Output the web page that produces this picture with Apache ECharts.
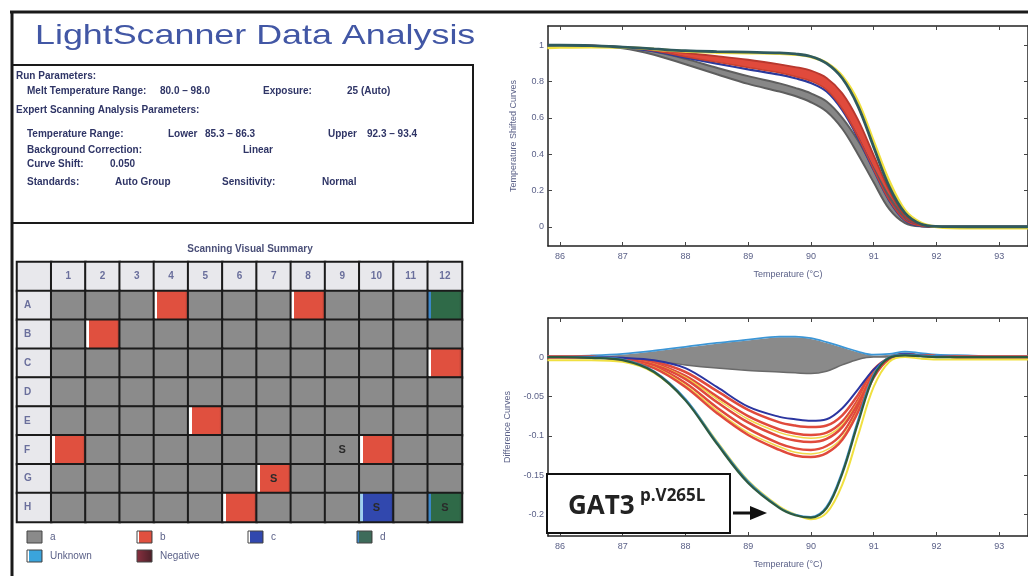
<!DOCTYPE html>
<html>
<head>
<meta charset="utf-8">
<script src="https://cdn.jsdelivr.net/npm/echarts@6/dist/echarts.min.js"></script>
<style>
  html, body { margin: 0; padding: 0; background: #fff; }
  #main { width: 1028px; height: 576px; }
</style>
</head>
<body>
<div id="main"></div>
<script>
// 温度采样点 (°C)
const temps = [85.8, 86, 86.5, 87, 87.5, 88, 88.5, 89, 89.5, 89.75, 90, 90.25, 90.5, 90.75, 91, 91.25, 91.5, 91.75, 92, 92.5, 93, 93.46];
const tempTicks = [86, 87, 88, 89, 90, 91, 92, 93];
const shiftTicks = [0, 0.2, 0.4, 0.6, 0.8, 1];
const diffTicks = [0, -0.05, -0.1, -0.15, -0.2];

// Temperature Shifted Curves
const shiftGreyHi = [1.0, 1.0, 0.996, 0.987, 0.965, 0.925, 0.876, 0.83, 0.79, 0.765, 0.735, 0.69, 0.6, 0.475, 0.32, 0.165, 0.052, 0.01, 0, 0, 0, 0];
const shiftGreyLo = [1.0, 1.0, 0.995, 0.984, 0.948, 0.895, 0.84, 0.787, 0.745, 0.72, 0.686, 0.635, 0.54, 0.4, 0.245, 0.097, 0.02, 0.002, 0, 0, 0, 0];
const shiftRedHi = [1.0, 1.0, 0.998, 0.99, 0.978, 0.958, 0.94, 0.92, 0.895, 0.88, 0.86, 0.82, 0.735, 0.59, 0.395, 0.2, 0.06, 0.01, 0, 0, 0, 0];
const shiftRedLo = [1.0, 1.0, 0.998, 0.989, 0.97, 0.937, 0.907, 0.877, 0.848, 0.828, 0.803, 0.755, 0.65, 0.495, 0.315, 0.145, 0.036, 0.005, 0, 0, 0, 0];
const shiftBlue = [1.0, 1.0, 0.997, 0.988, 0.967, 0.932, 0.899, 0.867, 0.838, 0.818, 0.792, 0.745, 0.642, 0.49, 0.312, 0.143, 0.035, 0.004, 0, 0, 0, 0];
const shiftYellow = [0.986, 0.988, 0.99, 0.988, 0.978, 0.966, 0.96, 0.957, 0.954, 0.949, 0.936, 0.903, 0.83, 0.69, 0.47, 0.25, 0.09, 0.022, 0, -0.008, -0.008, -0.008];
const shiftGat3 = [1.0, 1.0, 0.998, 0.99, 0.98, 0.97, 0.965, 0.962, 0.958, 0.952, 0.938, 0.9, 0.818, 0.665, 0.44, 0.22, 0.075, 0.015, 0.002, 0, 0, 0];

// Difference Curves
const diffGreyHi = [0, 0, 0.001, 0.003, 0.007, 0.012, 0.017, 0.021, 0.025, 0.025, 0.023, 0.018, 0.012, 0.006, 0.002, 0.003, 0.006, 0.004, 0.003, 0.002, 0.001, 0.001];
const diffGreyLo = [0, 0, -0.001, -0.002, -0.005, -0.01, -0.014, -0.017, -0.019, -0.02, -0.021, -0.018, -0.01, -0.003, 0, 0, 0.002, 0.001, 0, 0, 0, 0];
const diffCyan = [0.001, 0.001, 0.002, 0.004, 0.008, 0.013, 0.018, 0.022, 0.026, 0.026, 0.024, 0.019, 0.013, 0.007, 0.003, 0.004, 0.007, 0.005, 0.003, 0.002, 0.001, 0.001];
const diffBlue = [0, 0, 0, -0.001, -0.004, -0.014, -0.038, -0.063, -0.076, -0.079, -0.081, -0.079, -0.065, -0.041, -0.016, -0.001, 0.004, 0.002, 0.001, 0, 0, 0];
const diffRed1 = [0, 0, 0, -0.002, -0.006, -0.019, -0.043, -0.067, -0.083, -0.087, -0.089, -0.087, -0.074, -0.048, -0.016, -0.001, 0.003, 0.002, 0.001, 0, 0, 0];
const diffRed2 = [0, 0, 0, -0.003, -0.008, -0.024, -0.05, -0.075, -0.092, -0.097, -0.099, -0.096, -0.082, -0.054, -0.019, -0.001, 0.003, 0.002, 0.001, 0, 0, 0];
const diffRed3 = [0, 0, 0, -0.003, -0.01, -0.028, -0.057, -0.083, -0.101, -0.106, -0.108, -0.104, -0.089, -0.059, -0.021, -0.002, 0.003, 0.002, 0.001, 0, 0, 0];
const diffRed4 = [0, 0, 0, -0.004, -0.012, -0.033, -0.064, -0.091, -0.11, -0.116, -0.118, -0.113, -0.097, -0.064, -0.023, -0.002, 0.003, 0.002, 0.001, 0, 0, 0];
const diffRed5 = [0, 0, 0, -0.004, -0.014, -0.038, -0.071, -0.099, -0.118, -0.125, -0.127, -0.122, -0.105, -0.07, -0.026, -0.002, 0.003, 0.002, 0.001, 0, 0, 0];
const diffYellowA = [0, 0, 0, -0.003, -0.009, -0.026, -0.053, -0.079, -0.096, -0.101, -0.103, -0.1, -0.086, -0.057, -0.02, -0.001, 0.003, 0.002, 0.001, 0, 0, 0];
const diffYellowB = [0, 0, 0, -0.004, -0.013, -0.036, -0.068, -0.096, -0.114, -0.121, -0.123, -0.118, -0.102, -0.068, -0.025, -0.002, 0.003, 0.002, 0.001, 0, 0, 0];
const diffGat3 = [0, 0, -0.001, -0.004, -0.019, -0.055, -0.11, -0.16, -0.192, -0.201, -0.204, -0.192, -0.148, -0.084, -0.025, -0.001, 0.002, 0.001, 0, 0, 0, 0];
const diffGat3Cyan = [0, 0, 0, -0.003, -0.018, -0.053, -0.108, -0.158, -0.191, -0.2, -0.203, -0.19, -0.145, -0.08, -0.022, 0, 0.003, 0.002, 0.001, 0, 0, 0];
const diffGat3Yellow = [-0.004, -0.004, -0.004, -0.006, -0.02, -0.054, -0.107, -0.157, -0.19, -0.2, -0.206, -0.198, -0.162, -0.1, -0.038, -0.006, 0, -0.002, -0.003, -0.003, -0.003, -0.003];

// 96孔板
const plateCols = ['1', '2', '3', '4', '5', '6', '7', '8', '9', '10', '11', '12'];
const plateRows = ['A', 'B', 'C', 'D', 'E', 'F', 'G', 'H'];
const plateCalls = [
  'aaabaaabaaad',
  'abaaaaaaaaaa',
  'aaaaaaaaaaab',
  'aaaaaaaaaaaa',
  'aaaabaaaaaaa',
  'baaaaaaaabaa',
  'aaaaaabaaaaa',
  'aaaaabaaacad'
];
const standardWells = ['F9', 'G7', 'H10', 'H12'];
const legendNames = ['a', 'b', 'c', 'd', 'Unknown', 'Negative'];

const labelColor = '#5b6188';
const G = echarts.graphic;
function stripe(left, main, right) {
  return new G.LinearGradient(0, 0, 1, 0, [
    { offset: 0, color: left }, { offset: 0.13, color: left },
    { offset: 0.13, color: main }, { offset: 0.88, color: main },
    { offset: 1, color: right }
  ]);
}
const callColor = {
  a: '#8b8b8b',
  b: stripe('#ffffff', '#e0503f', '#9a3a30'),
  c: stripe('#9fd0f0', '#3148ae', '#27307a'),
  d: stripe('#3b86c8', '#2f6a48', '#2a4f3a')
};

// 孔板数据（含表头）
const plateData = [];
plateData.push({ value: [0, 0, 1], itemStyle: { color: '#e8e8ec' } });
plateCols.forEach((c, i) => {
  plateData.push({ value: [i + 1, 0, 1], itemStyle: { color: '#e8e8ec' },
    label: { show: true, formatter: c, color: '#6a6f9c', fontSize: 10, fontWeight: 'bold' } });
});
plateRows.forEach((r, ri) => {
  plateData.push({ value: [0, ri + 1, 1], itemStyle: { color: '#e8e8ec' },
    label: { show: true, formatter: r, color: '#6a6f9c', fontSize: 10, fontWeight: 'bold', align: 'left', offset: [-10, 0] } });
  plateCols.forEach((c, ci) => {
    const call = plateCalls[ri][ci];
    const isStd = standardWells.indexOf(r + c) >= 0;
    plateData.push({
      value: [ci + 1, ri + 1, 1],
      itemStyle: { color: callColor[call] },
      label: { show: isStd, formatter: 'S', color: '#2a2a2a', fontSize: 11, fontWeight: 'bold' }
    });
  });
});

function line(xi, yi, vals, color, width, z) {
  return {
    type: 'line', xAxisIndex: xi, yAxisIndex: yi,
    data: temps.map((t, i) => [t, vals[i]]),
    smooth: 0.35, symbol: 'none', silent: true,
    lineStyle: { color: color, width: width }, z: z || 2
  };
}
// 曲线带：用自定义多边形填充 lo~hi 之间
function band(xi, yi, lo, hi, fill) {
  return {
    type: 'custom', xAxisIndex: xi, yAxisIndex: yi, silent: true, z: 1, clip: true,
    data: temps.map((t, i) => [t, lo[i], hi[i]]),
    encode: { x: 0, y: [1, 2] },
    renderItem: function (params, api) {
      if (params.dataIndex !== 0) return null;
      const upper = temps.map((t, i) => api.coord([t, hi[i]]));
      const lower = temps.map((t, i) => api.coord([t, lo[i]])).reverse();
      return { type: 'polygon', shape: { points: upper.concat(lower), smooth: 0.3 }, style: { fill: fill } };
    }
  };
}

function xAx(grid, pos) {
  const main = pos === 'bottom';
  return {
    type: 'value', gridIndex: grid, position: pos, min: 85.81, max: 93.46,
    axisLine: { show: true, onZero: false, lineStyle: { color: '#222', width: 1.5 } },
    axisTick: { show: true, inside: true, length: 4, customValues: tempTicks, lineStyle: { color: '#444' } },
    axisLabel: { show: main, customValues: tempTicks, color: labelColor, fontSize: 9, margin: 6 },
    splitLine: { show: false },
    name: main ? 'Temperature (°C)' : '', nameLocation: 'middle', nameGap: 24,
    nameTextStyle: { color: labelColor, fontSize: 9 }
  };
}
function yAx(grid, pos, min, max, ticks, name, gap) {
  const main = pos === 'left';
  return {
    type: 'value', gridIndex: grid, position: pos, min: min, max: max,
    axisLine: { show: true, onZero: false, lineStyle: { color: '#222', width: 1.5 } },
    axisTick: { show: true, inside: true, length: 4, customValues: ticks, lineStyle: { color: '#444' } },
    axisLabel: { show: main, customValues: ticks, color: labelColor, fontSize: 9, margin: 4 },
    splitLine: { show: false },
    name: main ? name : '', nameLocation: 'middle', nameGap: gap, nameRotate: 90,
    nameTextStyle: { color: labelColor, fontSize: 9 }
  };
}

// 参数文字
const paramFont = { fontSize: 10, fontWeight: 'bold', fill: '#2f3566', fontFamily: 'Liberation Sans' };
const paramTexts = [
  ['Run Parameters:', 16, 76],
  ['Melt Temperature Range:', 27, 91], ['80.0 – 98.0', 160, 91], ['Exposure:', 263, 91], ['25 (Auto)', 347, 91],
  ['Expert Scanning Analysis Parameters:', 16, 110],
  ['Temperature Range:', 27, 134], ['Lower', 168, 134], ['85.3 – 86.3', 205, 134], ['Upper', 328, 134], ['92.3 – 93.4', 367, 134],
  ['Background Correction:', 27, 150], ['Linear', 243, 150],
  ['Curve Shift:', 27, 164], ['0.050', 110, 164],
  ['Standards:', 27, 182], ['Auto Group', 115, 182], ['Sensitivity:', 222, 182], ['Normal', 322, 182]
].map(p => ({ type: 'text', x: p[1], y: p[2], style: Object.assign({ text: p[0], verticalAlign: 'middle' }, paramFont) }));

// 图例
const legendSwatch = {
  a: '#8a8a8a',
  b: stripe('#ffffff', '#e0503f', '#9a3a30'),
  c: stripe('#ffffff', '#3148ae', '#27307a'),
  d: stripe('#3b86c8', '#3e6b5a', '#2a4f3a'),
  Unknown: stripe('#ffffff', '#3aa4dc', '#2a7ab0'),
  Negative: new G.LinearGradient(0, 0, 1, 0, [{ offset: 0, color: '#8a3040' }, { offset: 1, color: '#4a2028' }])
};
const legendPos = [[27, 537], [137, 537], [248, 537], [357, 537], [27, 556], [137, 556]];
const legendGraphics = [];
legendNames.forEach((n, i) => {
  const p = legendPos[i];
  legendGraphics.push({ type: 'rect', shape: { x: p[0], y: p[1] - 6, width: 15, height: 12 },
    style: { fill: legendSwatch[n], stroke: '#444', lineWidth: 1 } });
  legendGraphics.push({ type: 'text', x: p[0] + 23, y: p[1],
    style: { text: n, verticalAlign: 'middle', fontSize: 10, fill: '#5b6188', fontFamily: 'Liberation Sans' } });
});

const option = {
  animation: false,
  backgroundColor: '#ffffff',
  title: [
    { text: 'Scanning Visual Summary', left: 245, top: 239, textAlign: 'center',
      textStyle: { color: '#4a4f78', fontSize: 10, fontWeight: 'bold', fontFamily: 'Liberation Sans' } }
  ],
  grid: [
    { left: 17, top: 262, width: 445, height: 260, show: true, borderColor: '#111', borderWidth: 2, backgroundColor: 'transparent' },
    { left: 548, top: 26, width: 480, height: 220 },
    { left: 548, top: 318, width: 480, height: 218 }
  ],
  xAxis: [
    { type: 'category', gridIndex: 0, data: [''].concat(plateCols), show: false },
    xAx(1, 'bottom'), xAx(1, 'top'),
    xAx(2, 'bottom'), xAx(2, 'top')
  ],
  yAxis: [
    { type: 'category', gridIndex: 0, data: [''].concat(plateRows), inverse: true, show: false },
    yAx(1, 'left', -0.106, 1.106, shiftTicks, 'Temperature Shifted Curves', 30),
    yAx(1, 'right', -0.106, 1.106, shiftTicks, '', 0),
    yAx(2, 'left', -0.2273, 0.0496, diffTicks, 'Difference Curves', 36),
    yAx(2, 'right', -0.2273, 0.0496, diffTicks, '', 0)
  ],
  series: [
    { type: 'heatmap', xAxisIndex: 0, yAxisIndex: 0, data: plateData, silent: true,
      itemStyle: { borderColor: '#1b1b1b', borderWidth: 2 },
      label: { show: false, fontFamily: 'Liberation Sans' }, emphasis: { disabled: true } },
    // 上图
    band(1, 1, shiftGreyLo, shiftGreyHi, '#878787'),
    line(1, 1, shiftGreyHi, '#5e5e5e', 2),
    line(1, 1, shiftGreyLo, '#5e5e5e', 2),
    line(1, 1, shiftBlue, '#2b3a9c', 2.2, 3),
    band(1, 1, shiftRedLo, shiftRedHi, '#e04a3c'),
    line(1, 1, shiftRedHi, '#b8382e', 1.8, 3),
    line(1, 1, shiftRedLo, '#c8402f', 1.5, 3),
    line(1, 1, shiftYellow, '#f0e040', 2.8, 4),
    line(1, 1, shiftGat3, '#2f5a5e', 2.8, 5),
    // 下图
    band(3, 3, diffGreyLo, diffGreyHi, '#8a8a8a'),
    line(3, 3, diffGreyLo, '#6a6a6a', 1.5),
    line(3, 3, diffCyan, '#3c96d6', 1.8, 3),
    line(3, 3, diffRed1, '#e04a3c', 2.5, 3),
    line(3, 3, diffRed2, '#e04a3c', 2.5, 3),
    line(3, 3, diffYellowA, '#f0d84a', 1.5, 3),
    line(3, 3, diffRed3, '#e04a3c', 2.5, 3),
    line(3, 3, diffRed4, '#e04a3c', 2.5, 3),
    line(3, 3, diffYellowB, '#f0d84a', 1.5, 3),
    line(3, 3, diffRed5, '#e04a3c', 2.5, 3),
    line(3, 3, diffBlue, '#2b35a0', 2, 4),
    line(3, 3, diffGat3Yellow, '#f0e040', 2, 4),
    line(3, 3, diffGat3Cyan, '#3c8fd0', 1.8, 4),
    line(3, 3, diffGat3, '#2d5a40', 2.2, 5)
  ],
  graphic: [
    // 外框
    { type: 'line', shape: { x1: 10, y1: 12, x2: 1028, y2: 12 }, style: { stroke: '#1a1a1a', lineWidth: 3 }, z: 10 },
    { type: 'line', shape: { x1: 12, y1: 11, x2: 12, y2: 576 }, style: { stroke: '#1a1a1a', lineWidth: 3 }, z: 10 },
    { type: 'rect', shape: { x: 12, y: 65, width: 461, height: 158 }, style: { fill: 'none', stroke: '#1a1a1a', lineWidth: 2 }, z: 10 },
    // 标题（横向拉宽）
    { type: 'text', x: 35, y: 36, scaleX: 1.28, z: 10,
      style: { text: 'LightScanner Data Analysis', fontSize: 28, fontFamily: 'Liberation Sans', fill: '#4257a5', verticalAlign: 'middle' } },
    // 注释框
    { type: 'rect', shape: { x: 547, y: 474, width: 183, height: 59 }, style: { fill: '#ffffff', stroke: '#111', lineWidth: 2 }, z: 20 },
    { type: 'text', x: 568, y: 507, z: 21,
      style: { text: 'GAT3', fontSize: 26, fontWeight: 'bold', fontFamily: 'Open Sans', fill: '#222', verticalAlign: 'middle' } },
    { type: 'text', x: 640, y: 496, z: 21,
      style: { text: 'p.V265L', fontSize: 17, fontWeight: 'bold', fontFamily: 'Open Sans', fill: '#222', verticalAlign: 'middle' } },
    { type: 'line', shape: { x1: 733, y1: 513, x2: 752, y2: 513 }, style: { stroke: '#111', lineWidth: 3 }, z: 20 },
    { type: 'polygon', shape: { points: [[750, 506], [767, 513], [750, 520]] }, style: { fill: '#111' }, z: 20 }
  ].concat(paramTexts, legendGraphics)
};

const chart = echarts.init(document.getElementById('main'));
chart.setOption(option);
</script>
</body>
</html>
